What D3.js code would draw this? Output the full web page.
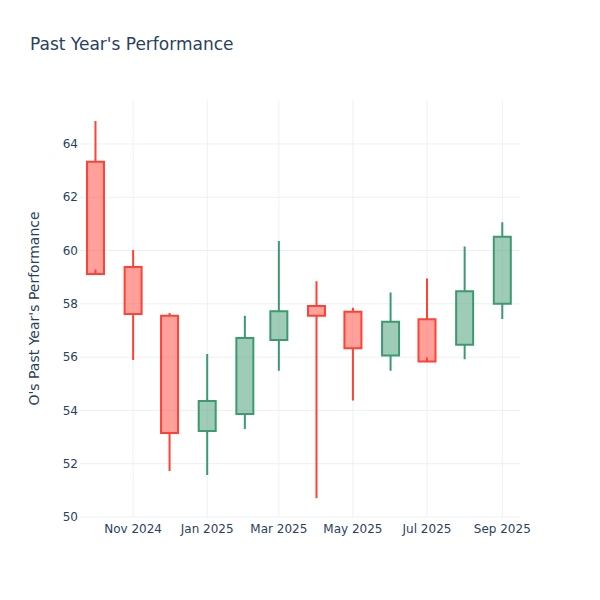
<!DOCTYPE html>
<html>
<head>
<meta charset="utf-8">
<script src="https://cdn.jsdelivr.net/npm/d3@7"></script>
<style>
  body { margin: 0; background: #fff; }
  svg text { font-family: "DejaVu Sans", "Open Sans", sans-serif; fill: #2a3f5f; }
</style>
</head>
<body>
<svg id="canvas" width="600" height="600"></svg>
<script>
// monthly candles
let dates = ['2024-10-01', '2024-11-01', '2024-12-01', '2025-01-01', '2025-02-01', '2025-03-01',
             '2025-04-01', '2025-05-01', '2025-06-01', '2025-07-01', '2025-08-01', '2025-09-01']
let opens  = [63.33, 59.38, 57.55, 53.23, 53.87, 56.64, 57.92, 57.70, 56.06, 57.42, 56.46, 58.00]
let highs  = [64.86, 60.02, 57.66, 56.12, 57.55, 60.36, 58.85, 57.85, 58.43, 58.95, 60.15, 61.06]
let lows   = [59.29, 55.89, 51.73, 51.58, 53.30, 55.49, 50.70, 54.37, 55.49, 55.99, 55.92, 57.43]
let closes = [59.12, 57.62, 53.15, 54.35, 56.72, 57.72, 57.55, 56.33, 57.33, 55.84, 58.47, 60.52]

let yTicks = [50, 52, 54, 56, 58, 60, 62, 64]
let xTicks = ['2024-11-01', '2025-01-01', '2025-03-01', '2025-05-01', '2025-07-01', '2025-09-01']

let titleText = "Past Year's Performance"
let yTitle = "O's Past Year's Performance"

let parse = d3.utcParse('%Y-%m-%d')
let candles = dates.map((d, i) => ({
    date: parse(d), open: opens[i], high: highs[i], low: lows[i], close: closes[i]
}))

let canvas = d3.select('#canvas')
let plotLeft = 80, plotRight = 520, plotTop = 100, plotBottom = 517

let x = d3.scaleUtc()
    .domain([new Date(Date.UTC(2024, 8, 18, 6)), new Date(Date.UTC(2025, 8, 15, 14))])
    .range([plotLeft, plotRight])
let y = d3.scaleLinear()
    .domain([50, 65.65])
    .range([plotBottom, plotTop])

let halfBox = 7 * 24 * 3600 * 1000  // box is 14 days wide

// grid
canvas.append('g')
    .selectAll('line')
    .data(yTicks)
    .enter()
    .append('line')
    .attr('x1', plotLeft).attr('x2', plotRight)
    .attr('y1', d => y(d)).attr('y2', d => y(d))
    .attr('stroke', '#ebf0f8').attr('stroke-width', 1)

canvas.append('g')
    .selectAll('line')
    .data(xTicks.map(parse))
    .enter()
    .append('line')
    .attr('x1', d => x(d)).attr('x2', d => x(d))
    .attr('y1', plotTop).attr('y2', plotBottom)
    .attr('stroke', '#ebf0f8').attr('stroke-width', 1)

// tick labels
canvas.append('g')
    .selectAll('text')
    .data(yTicks)
    .enter()
    .append('text')
    .attr('x', 78)
    .attr('y', d => y(d))
    .attr('dy', '0.35em')
    .attr('text-anchor', 'end')
    .attr('font-size', 12)
    .text(d => d)

let fmt = d3.utcFormat('%b %Y')
canvas.append('g')
    .selectAll('text')
    .data(xTicks.map(parse))
    .enter()
    .append('text')
    .attr('x', d => x(d))
    .attr('y', 533)
    .attr('text-anchor', 'middle')
    .attr('font-size', 12)
    .text(d => fmt(d))

// candles
let candlePath = (d) => {
    let x0 = x(new Date(d.date.getTime() - halfBox))
    let x1 = x(new Date(d.date.getTime() + halfBox))
    let xc = x(d.date)
    let q1 = Math.min(d.open, d.close), q3 = Math.max(d.open, d.close)
    return `M${x0},${y(q1)}H${x1}V${y(q3)}H${x0}Z` +
        `M${xc},${y(q1)}V${y(d.low)}M${xc},${y(q3)}V${y(d.high)}`
}

canvas.append('g')
    .selectAll('path')
    .data(candles)
    .enter()
    .append('path')
    .attr('d', candlePath)
    .attr('stroke', d => d.close >= d.open ? '#3d9970' : '#ff4136')
    .attr('fill', d => d.close >= d.open ? 'rgba(61,153,112,0.5)' : 'rgba(255,65,54,0.5)')
    .attr('stroke-width', 2)

// titles
canvas.append('text')
    .attr('x', 30).attr('y', 50)
    .attr('font-size', 17)
    .text(titleText)

canvas.append('text')
    .attr('transform', `translate(39,${(plotTop + plotBottom) / 2}) rotate(-90)`)
    .attr('text-anchor', 'middle')
    .attr('font-size', 14)
    .text(yTitle)
</script>
</body>
</html>
